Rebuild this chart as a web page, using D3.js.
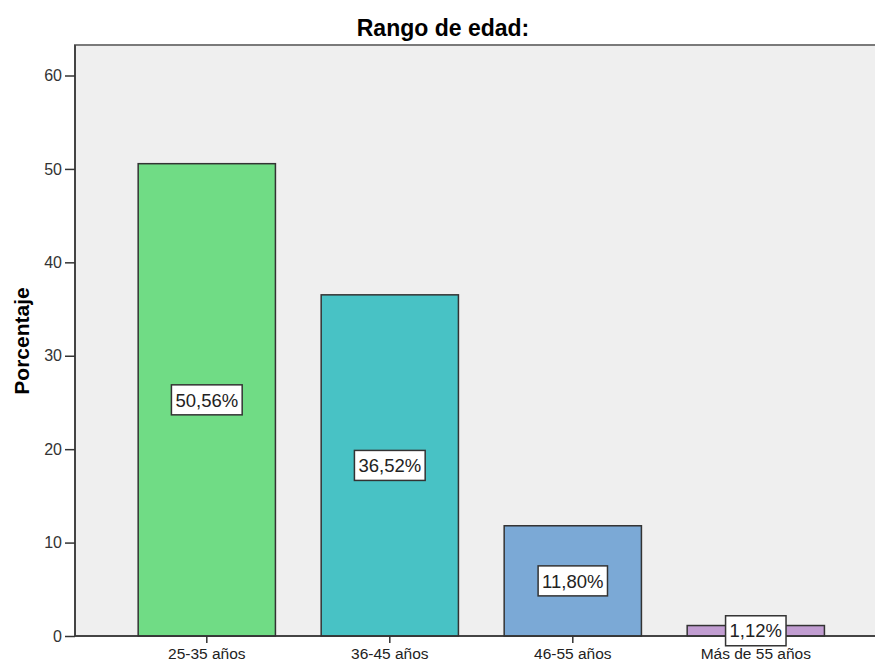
<!DOCTYPE html>
<html>
<head>
<meta charset="utf-8">
<script src="https://cdn.jsdelivr.net/npm/d3@7"></script>
<style>
  body { margin: 0; background: #fff; }
  svg { display: block; font-family: Arial, "Liberation Sans", sans-serif; }
</style>
</head>
<body>
<div id="chart"></div>
<script>
// datos del gráfico
const categories = ["25-35 años", "36-45 años", "46-55 años", "Más de 55 años"];
const values = [50.56, 36.52, 11.80, 1.12];
const labels = ["50,56%", "36,52%", "11,80%", "1,12%"];
const colors = ["#70dc85", "#48c2c5", "#7ba9d6", "#c19dd1"];
const yTicks = [0, 10, 20, 30, 40, 50, 60];

const W = 875, H = 665;
const plot = { left: 75, top: 45, right: 877, bottom: 636 };

const svg = d3.select("#chart").append("svg")
    .attr("width", W)
    .attr("height", H);

// escalas
const x = d3.scaleBand()
    .domain(categories)
    .range([115.3, 847.3])
    .paddingInner(0.25)
    .paddingOuter(0.125);

const y = d3.scaleLinear()
    .domain([0, 60])
    .range([plot.bottom, 75.5]);

// fondo del área de trazado
svg.append("rect")
    .attr("x", plot.left)
    .attr("y", plot.top)
    .attr("width", plot.right - plot.left)
    .attr("height", plot.bottom - plot.top)
    .attr("fill", "#efefef")
    .attr("stroke", "#7a7a7a")
    .attr("stroke-width", 2);

// barras
svg.selectAll(".bar")
    .data(values)
    .enter()
    .append("rect")
    .attr("class", "bar")
    .attr("x", (d, i) => x(categories[i]))
    .attr("y", d => y(d))
    .attr("width", x.bandwidth())
    .attr("height", d => y(0) - y(d))
    .attr("fill", (d, i) => colors[i])
    .attr("stroke", "#333")
    .attr("stroke-width", 1.5);

// ejes
const yAxis = svg.append("g")
    .attr("transform", `translate(${plot.left},0)`)
    .call(d3.axisLeft(y).tickValues(yTicks).tickSize(10).tickPadding(3).tickSizeOuter(0));
yAxis.select(".domain").attr("d", `M0,${plot.top}V${plot.bottom}`).attr("stroke", "#333").attr("stroke-width", 1.5);
yAxis.selectAll(".tick line").attr("stroke", "#333").attr("stroke-width", 1.5);
yAxis.selectAll(".tick text").attr("fill", "#333").style("font-size", "16px");

const xAxis = svg.append("g")
    .attr("transform", `translate(0,${plot.bottom})`)
    .call(d3.axisBottom(x).tickSize(7).tickPadding(5).tickSizeOuter(0));
xAxis.select(".domain").attr("d", `M${plot.left},0H${plot.right}`).attr("stroke", "#333").attr("stroke-width", 1.5);
xAxis.selectAll(".tick line").attr("stroke", "#333").attr("stroke-width", 1.5);
xAxis.selectAll(".tick text").attr("fill", "#222").style("font-size", "15.5px");

// etiquetas de las barras
const lab = svg.selectAll(".lab")
    .data(values)
    .enter()
    .append("g")
    .attr("class", "lab")
    .attr("transform", (d, i) => `translate(${x(categories[i]) + x.bandwidth() / 2},${y(d / 2)})`);

lab.append("text")
    .attr("text-anchor", "middle")
    .attr("dy", "0.36em")
    .attr("fill", "#222")
    .style("font-size", "18.5px")
    .text((d, i) => labels[i]);

lab.each(function () {
    const g = d3.select(this);
    const b = g.select("text").node().getBBox();
    g.insert("rect", "text")
        .attr("x", b.x - 4)
        .attr("y", -15)
        .attr("width", b.width + 8)
        .attr("height", 30)
        .attr("fill", "#fff")
        .attr("stroke", "#333")
        .attr("stroke-width", 1.5);
});

// título
svg.append("text")
    .attr("x", 443)
    .attr("y", 36)
    .attr("text-anchor", "middle")
    .style("font-size", "23px")
    .style("font-weight", "bold")
    .text("Rango de edad:");

// título del eje Y
svg.append("text")
    .attr("transform", `translate(29,341) rotate(-90)`)
    .attr("text-anchor", "middle")
    .style("font-size", "21px")
    .style("font-weight", "bold")
    .text("Porcentaje");
</script>
</body>
</html>
